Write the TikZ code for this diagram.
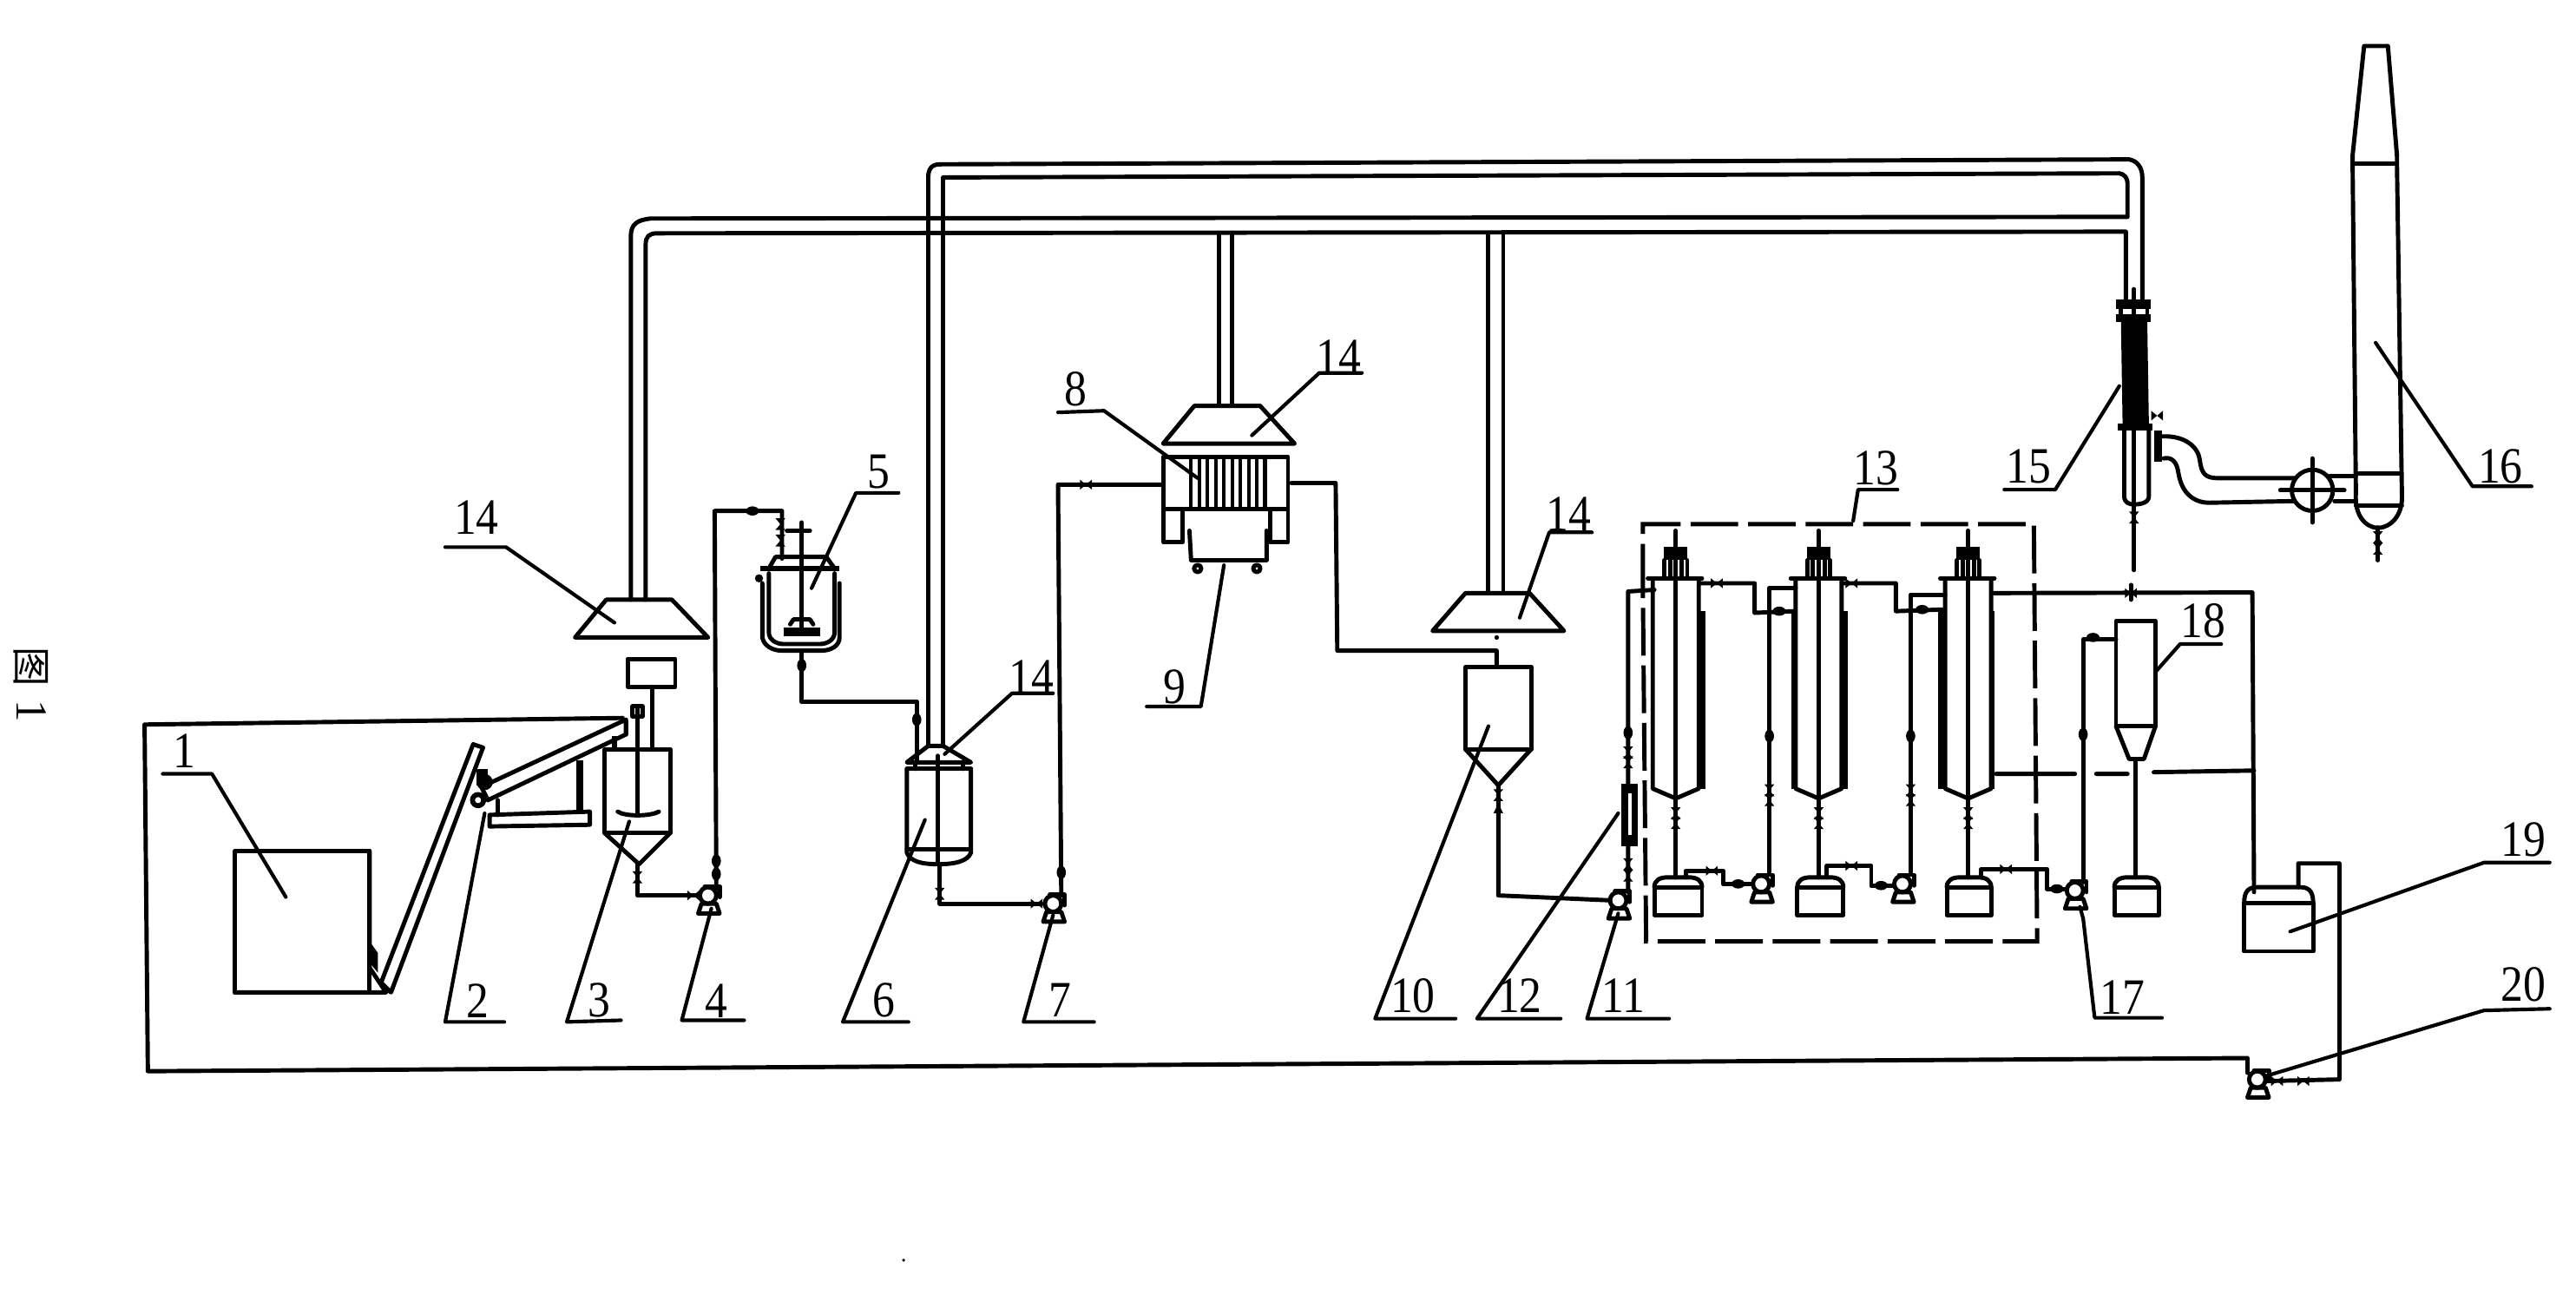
\documentclass[tikz,border=0pt]{standalone}
\usepackage{fontspec}
\setmainfont{Liberation Serif}
\newfontfamily\cjkf{Noto Sans CJK SC}
\tikzset{
  pipe/.style={line width=2.6pt,line cap=round,line join=round},
  leader/.style={line width=2.2pt,line cap=round,line join=round},
  dashbox/.style={line width=2.6pt,dash pattern=on 29pt off 6pt},
  lab/.style={font=\fontsize{31}{31}\selectfont,inner sep=0pt,xscale=0.88}
}
\newcommand\vvalve[2]{\begin{scope}[shift={(#1,#2)}]\fill (-3,-3.6)--(3,-3.6)--(-3,3.6)--(3,3.6)--cycle;\end{scope}}
\newcommand\hvalve[2]{\begin{scope}[shift={(#1,#2)}]\fill (-3.6,-3)--(-3.6,3)--(3.6,-3)--(3.6,3)--cycle;\end{scope}}
\newcommand\blob[2]{\fill (#1,#2) ellipse (2.8 and 4);}
\newcommand\hblob[2]{\fill (#1,#2) ellipse (4 and 2.8);}
\newcommand\pumpsym[2]{\begin{scope}[shift={(#1,#2)}]
  \draw[pipe] (0,0) circle (5);
  \draw[pipe] (-6,11)--(7,11)--(5,5)--(-4,5)--cycle;
  \draw[pipe] (-2,-5.5)--(7,-5.5)--(7,1);
\end{scope}}
\newcommand\tanksym[5]{% x0 x1 ytopline ybottom ydome
  \draw[pipe] (#1,#3)--(#2,#3)--(#2,#4)--(#1,#4)--cycle;
  \draw[pipe] (#1,#3) .. controls (#1,#5+2) and (#1+3,#5) .. (#1+8,#5) -- (#2-8,#5) .. controls (#2-3,#5) and (#2,#5+2) .. (#2,#3);}
\newcommand\hood[6]{% xb0 xb1 yb xt0 xt1 yt
  \draw[pipe] (#1,#3)--(#2,#3)--(#5,#6)--(#4,#6)--cycle;}
\newcommand\colm[3]{\begin{scope}[shift={(#1,0)}]
  \draw[pipe] (-14,353)--(-14,480)--(0,486)--(14,480)--(14,353);
  \draw[pipe] (-17,352)--(16,352);
  \fill (-14-#2,372) rectangle (-14+1,480);
  \fill (14-1,372) rectangle (14+#3,480);
  \draw[pipe] (0,323)--(0,486);
  \fill (-7,333) rectangle (7,341);
  \draw[pipe] (-7,341)--(-7,352) (7,341)--(7,352) (-3.5,341)--(-3.5,352) (3.5,341)--(3.5,352);
  \vvalve{0}{495}\vvalve{0}{501}
  \draw[pipe] (0,486)--(0,534);
\end{scope}}
\begin{document}
\begin{tikzpicture}[x=1pt,y=-1pt]
\useasboundingbox (0,0) rectangle (1568,788.2);
\fill[white] (0,0) rectangle (1568,788.2);

% ---- recycle frame and feed section
\draw[pipe] (379,437)--(88,441)--(90,652)--(1368,644)--(1368,653);
\draw[pipe] (143,518) rectangle (225,604);
\draw[pipe] (225,518)--(225,589)--(235,604)--(143,604);
\fill (225,573)--(230,580)--(230,592)--(225,586)--cycle;
\draw[pipe] (232,598)--(288,453)--(294,455)--(238,604)--cycle;
\draw[pipe] (293,479)--(381,438) (297,487)--(381,447)--(381,438);
\draw[pipe] (293,479)--(297,487);
\draw[line width=3pt] (291,487) circle (3.4);
\draw[line width=3pt] (295,476) circle (3.4);
\fill (290,468) rectangle (297,478);
\draw[pipe] (298,496)--(359,494)--(359,502)--(298,503)--cycle;
\draw[line width=4.5pt] (353,463)--(353,494);
\draw[pipe] (303,487)--(303,496);
\draw[pipe] (368,456) rectangle (408,507);
\draw[pipe] (368,507)--(389,526)--(408,507);
\draw[pipe] (388,431)--(388,495);
\draw[pipe] (376,494) .. controls (380,497) and (396,497) .. (401,494);
\draw[pipe] (385,430) rectangle (391,436);
\draw[pipe] (382,401) rectangle (411,418);
\draw[pipe] (397,418)--(397,456);
\draw[line width=3pt] (374,448)--(374,456);
\draw[pipe] (388,526)--(388,545)--(426,545);
\vvalve{388}{534}
\hvalve{422}{545}
\pumpsym{431}{545}
\draw[pipe] (436,541)--(435,311)--(476,311)--(476,340);
\blob{436}{524}\blob{436}{532}
\hblob{458}{311}
\draw[pipe] (381,439)--(381,447);

% ---- hood over tank 3
\hood{350}{431}{388}{369}{409}{365}

% ---- reactor 5
\vvalve{475}{319}\vvalve{475}{329}
\draw[pipe] (488,318)--(488,385);
\draw[pipe] (479,323)--(493,323);
\draw[line width=3.6pt] (463,346)--(511,346);
\draw[pipe] (468,346)--(472,339)--(503,339)--(508,346);
\draw[pipe] (468,349)--(468,385) .. controls (468,389) and (472,392) .. (477,392) -- (499,392) .. controls (504,392) and (508,389) .. (508,385)--(508,349);
\draw[pipe] (464,355)--(464,388) .. controls (465,393) and (470,396) .. (476,396) -- (500,396) .. controls (506,396) and (511,393) .. (511,388)--(511,355);
\fill (462,352) circle (2.5);
\fill (477,382) rectangle (499,387);
\draw[pipe] (481,380) -- (483,377) -- (493,377) -- (495,380);
\draw[pipe] (488,396)--(488,427)--(558,427)--(558,463);
\blob{488}{405}\blob{558}{438}

% ---- vessel 6
\hood{552}{591}{464}{565}{574}{454}
\draw[pipe] (552,468)--(591,468);
\draw[pipe] (557,464)--(557,468) (586,464)--(586,468);
\draw[pipe] (552,468)--(552,519) .. controls (554,524) and (560,526) .. (571,526) .. controls (582,526) and (589,524) .. (591,519)--(591,468);
\draw[pipe] (552,517)--(591,517);
\draw[pipe] (571,460)--(571,525);
\draw[pipe] (572,526)--(572,550)--(634,550);
\vvalve{572}{544}
\hvalve{631}{550}
\pumpsym{641}{550}
\draw[pipe] (646,545)--(644,295)--(707,295);
\hvalve{661}{295}
\blob{646}{531}

% ---- filter press 8, tray 9
\hood{708}{788}{270}{727}{767}{247}
\draw[pipe] (708,278) rectangle (784,310);
\foreach \px in {725,730,...,771}{\draw[line width=2.2pt] (\px,279)--(\px,310);}
\draw[pipe] (708,310)--(708,330)--(720,330)--(720,310);
\draw[pipe] (773,310)--(773,330)--(784,330)--(784,310);
\draw[pipe] (724,323)--(725,341)--(771,341)--(771,323);
\draw[pipe] (729,346) circle (2.2) (765,346) circle (2.2);
\draw[pipe] (786,294)--(813,294)--(814,396)--(911,396)--(911,406);

% ---- hood / vessel 10
\hood{872}{952}{384}{892}{931}{361}
\fill (911,388) circle (1.4);
\draw[pipe] (892,406) rectangle (932,456);
\draw[pipe] (892,456)--(912,478)--(932,456);
\draw[pipe] (912,478)--(912,545)--(980,548);
\vvalve{912}{484}
\fill (912,489)--(915,495)--(909,495)--cycle;
\pumpsym{985}{548}

% ---- gas ducts
\draw[pipe] (565,454)--(565,108) .. controls (565,103) and (567,100) .. (572,100) -- (1296,97) .. controls (1301,98) and (1304,102) .. (1304,108) -- (1304,182);
\draw[pipe] (574,454)--(574,108)--(1290,105.5) .. controls (1293,106) and (1295,108) .. (1295,112) -- (1295,132) -- (396,133) .. controls (388,134) and (384,136) .. (384,144) -- (384,365);
\draw[pipe] (393,365)--(393,149) .. controls (393,144) and (395,142) .. (400,142) -- (1294,141) -- (1294,182);
\draw[pipe] (742,142)--(742,247) (750,142)--(750,247);
\draw[pipe] (906,142)--(906,361) (915,142)--(915,361);

% ---- washing section 13
\draw[dashbox] (1000,360)--(1000,319)--(1238,319)--(1240,573)--(1002,573)--(1000,360);
\colm{1020}{1}{4}\colm{1107}{2.5}{4}\colm{1198}{4.5}{2}
\tanksym{1007}{1036}{540}{557}{534}
\tanksym{1094}{1122}{540}{557}{534}
\tanksym{1185}{1212}{540}{557}{534}
\tanksym{1287}{1314}{540}{557}{534}
\pumpsym{1072}{538}
\pumpsym{1158}{538}
\pumpsym{1263}{542}
\draw[pipe] (1035,355)--(1068,355)--(1068,373)--(1092,372);
\hvalve{1045}{355}
\draw[pipe] (1093,358)--(1077,358)--(1077,531);
\blob{1077}{448}\vvalve{1077}{481}\vvalve{1077}{487}
\hblob{1083}{372}
\draw[pipe] (1026,534)--(1026,530)--(1049,530)--(1049,538)--(1067,538);
\hvalve{1042}{530}\hblob{1058}{538}
\draw[pipe] (1122,355)--(1154,355)--(1154,372)--(1182,371);
\hvalve{1127}{355}
\draw[pipe] (1184,362)--(1163,362)--(1163,531);
\blob{1163}{448}\vvalve{1163}{481}\vvalve{1163}{487}
\hblob{1170}{371}
\draw[pipe] (1112,534)--(1112,527)--(1139,527)--(1139,539)--(1153,539);
\hvalve{1127}{527}\hblob{1145}{539}
\draw[pipe] (1206,534)--(1206,529)--(1246,529)--(1246,541)--(1258,541);
\hvalve{1221}{529}\hblob{1252}{541}
\draw[pipe] (1007,359)--(991,360)--(991,543);
\blob{991}{446}\vvalve{991}{458}\vvalve{991}{464}
\fill (987,477) rectangle (997,515);
\fill[white] (991,483) rectangle (993,508);
\vvalve{991}{526}\vvalve{991}{533}
\draw[pipe] (1268,537)--(1268,389)--(1288,389);
\hblob{1274}{388}\blob{1268}{447}
\draw[pipe] (1213,361)--(1371,360.6)--(1372,543);
\draw[pipe] (1297,356)--(1297,365);
\hvalve{1297}{361}
\draw[pipe] (1215,471)--(1263,471) (1276,471)--(1295,471) (1311,470)--(1372,469);
% cyclone 18
\draw[pipe] (1288,378) rectangle (1312,442);
\draw[pipe] (1288,442)--(1296,462)--(1305,462)--(1312,442);
\draw[pipe] (1300,462)--(1300,534);

% ---- condenser 15
\draw[pipe] (1299,176)--(1299,185);
\fill (1288,182) rectangle (1309,188);
\fill (1288,191) rectangle (1309,196);
\draw[pipe] (1291,188)--(1291,191) (1299,188)--(1299,191) (1307,188)--(1307,191);
\fill (1291,195)--(1307,195)--(1308,258)--(1292,258)--cycle;
\fill (1289,258) rectangle (1310,262);
\draw[pipe] (1293,262)--(1293,302) .. controls (1293,306) and (1296,307) .. (1299,307) .. controls (1303,307) and (1308,306) .. (1308,302)--(1308,262);
\draw[pipe] (1299,262)--(1299,307);
\draw[pipe] (1299,307)--(1299,347);
\vvalve{1299}{315}
\hvalve{1313}{253}
\fill (1311,262) rectangle (1316,281);
\draw[pipe] (1316,265.6) .. controls (1330,265) and (1338,272) .. (1339,280) .. controls (1340,288) and (1342,291) .. (1350,291) -- (1397,291);
\draw[pipe] (1317,279) .. controls (1322,278) and (1325,281) .. (1326,288) .. controls (1328,300) and (1335,306) .. (1345,306) -- (1396,305);
\draw[pipe] (1407.5,298.4) circle (12.5);
\draw[pipe] (1388,298.4)--(1427,298.4) (1407.5,279)--(1407.5,318);
\draw[pipe] (1418,290)--(1434,290) (1421,305)--(1434,305);

% ---- stack 16
\draw[pipe] (1432,94.6)--(1439,28)--(1453.5,28)--(1459,94.6);
\draw[pipe] (1432,94.6)--(1432,99.5)--(1434,300) .. controls (1433,314) and (1440,321) .. (1447.5,321.4) .. controls (1455,321) and (1463,314) .. (1462,300)--(1459,99.5)--(1459,94.6);
\draw[pipe] (1432,99.5)--(1459,99.5) (1434,288)--(1461,288) (1434,307.6)--(1462,307.6);
\draw[pipe] (1447.4,321)--(1447.4,341);
\vvalve{1447.4}{327}\vvalve{1447.4}{334}

% ---- storage 19 and pump 20
\tanksym{1366}{1408}{549.6}{579}{540}
\draw[pipe] (1399,540)--(1399,525.5)--(1424,525.5)--(1424,657)--(1380,658);
\hvalve{1386}{658}\hvalve{1402}{658}
\pumpsym{1374}{657}

% ---- labels and leaders
\node[lab] (n1) at (112,457) {1};
\draw[leader] (99,471)--(129,471)--(174,546);
\node[lab] (n2) at (291,609) {2};
\draw[leader] (307,622)--(271,622)--(295,495);
\node[lab] (n3) at (365,609) {3};
\draw[leader] (378,621)--(345,622)--(383,500);
\node[lab] (n4) at (436,609) {4};
\draw[leader] (453,621)--(415,621)--(433,553);
\node[lab] (n5) at (535,287) {5};
\draw[leader] (547,300)--(521,300)--(494,358);
\node[lab] (n6) at (538,609) {6};
\draw[leader] (553,622)--(513,622)--(563,499);
\node[lab] (n7) at (645,609) {7};
\draw[leader] (666,622)--(623,622)--(641,557);
\node[lab] (n8) at (655,237) {8};
\draw[leader] (644,251)--(672,250)--(729,291);
\node[lab] (n9) at (715,418) {9};
\draw[leader] (698,430)--(731,430)--(745,344);
\node[lab] (n10) at (860,606) {10};
\draw[leader] (886,620)--(837,620)--(906,442);
\node[lab] (n12) at (925,606) {12};
\draw[leader] (950,620)--(899,620)--(985,495);
\node[lab] (n11) at (988,606) {11};
\draw[leader] (1016,620)--(966,620)--(985,556);
\node[lab] (n13) at (1142,285) {13};
\draw[leader] (1155,298)--(1131,298)--(1128,317);
\node[lab] (a14) at (290,315) {14};
\draw[leader] (271,333)--(308,333)--(374,379);
\node[lab] (b14) at (628,412) {14};
\draw[leader] (641,422)--(616,422)--(575,459);
\node[lab] (c14) at (815,217) {14};
\draw[leader] (829,227)--(803,227)--(762,265);
\node[lab] (d14) at (955,313) {14};
\draw[leader] (969,324)--(943,324)--(925,376);
\node[lab] (n15) at (1235,284) {15};
\draw[leader] (1220,298)--(1251,298)--(1290,235);
\node[lab] (n16) at (1522,284) {16};
\draw[leader] (1541,296)--(1505,296)--(1446,208.6);
\node[lab] (n17) at (1292,607) {17};
\draw[leader] (1316,619.5)--(1275,619.5)--(1268,559)--(1266,552);
\node[lab] (n18) at (1341,378) {18};
\draw[leader] (1352,392)--(1327,392)--(1312,409);
\node[lab] (n19) at (1536,511) {19};
\draw[leader] (1552,525)--(1512,525)--(1394,567);
\node[lab] (n20) at (1536,599) {20};
\draw[leader] (1552,614)--(1512,615)--(1379,655);
\node[font=\cjkf\fontsize{24}{24}\selectfont,rotate=-90,inner sep=0pt] (fig) at (19,406) {图};
\node[font=\fontsize{27}{27}\selectfont,rotate=-90,inner sep=0pt] (figno) at (19,433) {1};
\fill (550,767) circle (1);
\end{tikzpicture}
\end{document}
